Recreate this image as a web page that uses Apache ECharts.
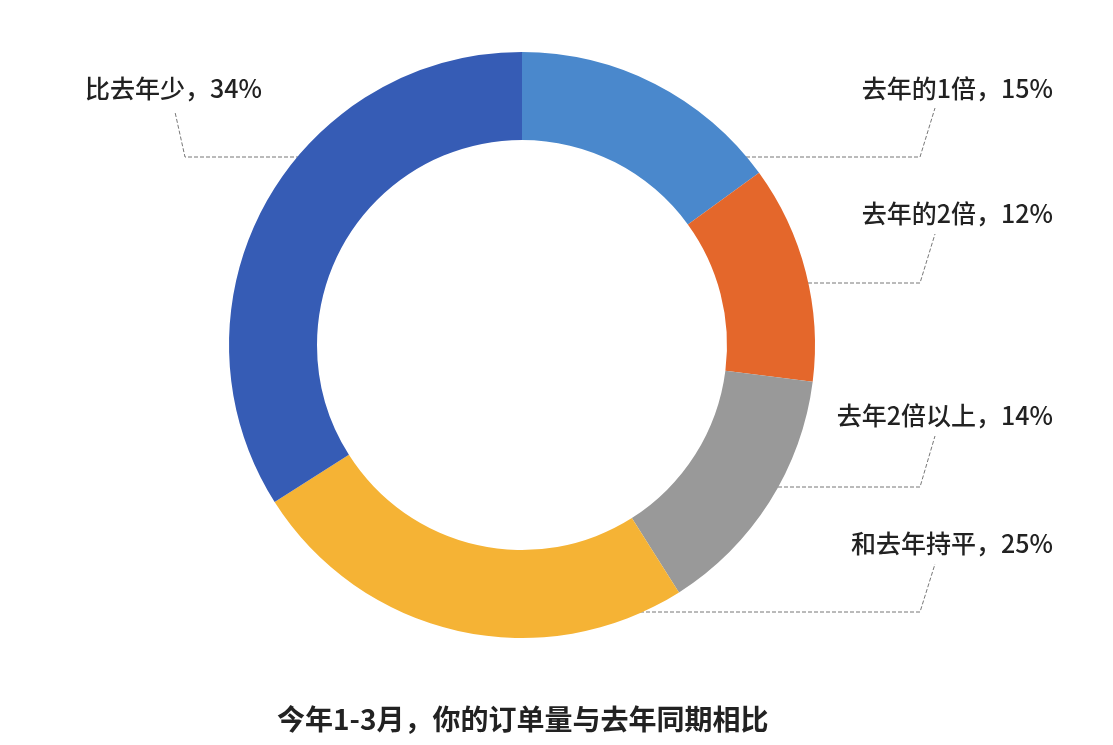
<!DOCTYPE html><html><head><meta charset="utf-8"><script src="https://cdn.jsdelivr.net/npm/echarts@6/dist/echarts.min.js"></script></head><body style="margin:0;background:#fff"><div id="c" style="width:1113px;height:745px"></div><script>
const categories=['去年的1倍','去年的2倍','去年2倍以上','和去年持平','比去年少'];
const values=[15,12,14,25,34];
const colors=['#4a88cc','#e4672b','#999999','#f5b335','#365cb5'];
const labelPos=[[1053,88,'right'],[1053,213,'right'],[1053,415,'right'],[1053,543,'right'],[85,88,'left']];
const linePts=[[[740,157],[920,157],[935,108]],[[790,283],[920,283],[935,234]],[[760,487],[920,487],[935,436]],[[628,612],[920,612],[935,564]],[[300,157],[185,157],[175,112]]];
const ch=echarts.init(document.getElementById('c'));
ch.setOption({
title:{text:'今年1-3月，你的订单量与去年同期相比',left:272,top:700,textStyle:{fontSize:28,fontWeight:'bold',color:'#222',fontFamily:'Noto Sans CJK SC'}},
series:[{type:'pie',center:[522,345],radius:[205,293],startAngle:90,clockwise:true,
data:categories.map((n,i)=>({name:n,value:values[i],itemStyle:{color:colors[i]}})),
label:{formatter:p=>p.name+'，'+p.value+'%',fontSize:25,fontWeight:500,color:'#222',fontFamily:'Noto Sans CJK SC'},
labelLine:{show:true,lineStyle:{type:'dashed',color:'#777',width:1}},
labelLayout:p=>{const l=labelPos[p.dataIndex];const w=p.labelRect.width;return {x:l[2]==='right'?l[0]-w:l[0],y:l[1],verticalAlign:'middle',align:'left',labelLinePoints:linePts[p.dataIndex]};},
emphasis:{disabled:true}}]
});
</script></body></html>
